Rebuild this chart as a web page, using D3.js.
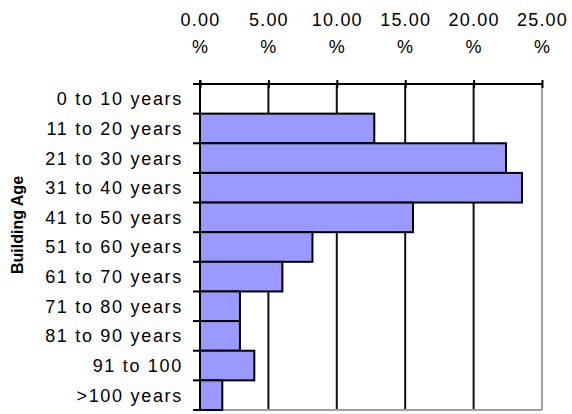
<!DOCTYPE html>
<html>
<head>
<meta charset="utf-8">
<script src="https://cdn.jsdelivr.net/npm/d3@7"></script>
<style>
  html, body { margin: 0; padding: 0; background: #fff; }
  svg { display: block; }
  text { font-family: "Liberation Sans", Arial, sans-serif; fill: #000; }
</style>
</head>
<body>
<svg id="chart" width="572" height="414"></svg>
<script>
// Share of buildings by age band (percent)
const categories = [
  "0 to 10 years", "11 to 20 years", "21 to 30 years", "31 to 40 years",
  "41 to 50 years", "51 to 60 years", "61 to 70 years", "71 to 80 years",
  "81 to 90 years", "91 to 100", ">100 years"
];
const shares = [0, 12.74, 22.37, 23.54, 15.57, 8.22, 6.02, 2.92, 2.92, 3.97, 1.63];
const tickValues = [0, 5, 10, 15, 20, 25];
const axisTitle = "Building Age";

const svg = d3.select("#chart");
const plotL = 200, plotR = 542, plotT = 84, plotB = 410;

const x = d3.scaleLinear().domain([0, 25]).range([plotL, plotR]);
const y = d3.scaleBand().domain(categories).range([plotT, plotB]).padding(0);

// vertical gridlines
svg.append("g")
  .selectAll("line")
  .data(tickValues.filter(v => v > 0 && v < 25))
  .join("line")
  .attr("x1", d => x(d)).attr("x2", d => x(d))
  .attr("y1", plotT).attr("y2", plotB)
  .attr("stroke", "#111").attr("stroke-width", 2);

// plot frame: right and bottom edges in light grey
svg.append("line")
  .attr("x1", x(25)).attr("x2", x(25)).attr("y1", plotT).attr("y2", plotB)
  .attr("stroke", "#a0a0a0").attr("stroke-width", 2);
svg.append("line")
  .attr("x1", plotL).attr("x2", x(25)).attr("y1", plotB).attr("y2", plotB)
  .attr("stroke", "#a0a0a0").attr("stroke-width", 2);

// bars
svg.append("g")
  .selectAll("rect")
  .data(categories.map((c, i) => ({ c, v: shares[i] })).filter(d => d.v > 0))
  .join("rect")
  .attr("x", x(0))
  .attr("y", d => y(d.c))
  .attr("width", d => x(d.v) - x(0))
  .attr("height", y.bandwidth())
  .attr("fill", "#9999ff")
  .attr("stroke", "#000")
  .attr("stroke-width", 2);

// top value axis
const xAxis = d3.axisTop(x).tickValues(tickValues).tickSize(0).tickFormat("");
const gx = svg.append("g").attr("transform", `translate(0,${plotT})`).call(xAxis);
gx.select(".domain").attr("stroke", "#000").attr("stroke-width", 2).attr("d", `M${plotL},0H${plotR}`);
gx.selectAll(".tick").append("line")
  .attr("y1", -4).attr("y2", 4).attr("stroke", "#000").attr("stroke-width", 2);
const lbl = gx.selectAll(".tick").append("text")
  .attr("text-anchor", "middle")
  .style("font-size", "18px")
  .style("letter-spacing", "1.2px");
lbl.append("tspan").attr("x", 0).attr("y", -58).text(d => d3.format(".2f")(d));
lbl.append("tspan").attr("x", 0).attr("y", -31).text("%");

// left category axis
const gy = svg.append("g").attr("transform", `translate(${plotL},0)`);
gy.append("line").attr("x1", 0).attr("x2", 0).attr("y1", plotT - 4).attr("y2", plotB)
  .attr("stroke", "#000").attr("stroke-width", 2);
const bounds = categories.map(c => y(c)).concat([plotB]);
gy.selectAll("line.tk").data(bounds).join("line").attr("class", "tk")
  .attr("x1", -7).attr("x2", 0).attr("y1", d => d).attr("y2", d => d)
  .attr("stroke", "#000").attr("stroke-width", 2);
gy.selectAll("text").data(categories).join("text")
  .attr("x", -17)
  .attr("y", d => y(d) + y.bandwidth() / 2)
  .attr("dy", "0.36em")
  .attr("text-anchor", "end")
  .style("font-size", "18px")
  .style("letter-spacing", "1.7px")
  .text(d => d);

// axis title
svg.append("text")
  .attr("transform", "translate(23,225) rotate(-90)")
  .attr("text-anchor", "middle")
  .style("font-size", "16px")
  .style("font-weight", "bold")
  .text(axisTitle);
</script>
</body>
</html>
